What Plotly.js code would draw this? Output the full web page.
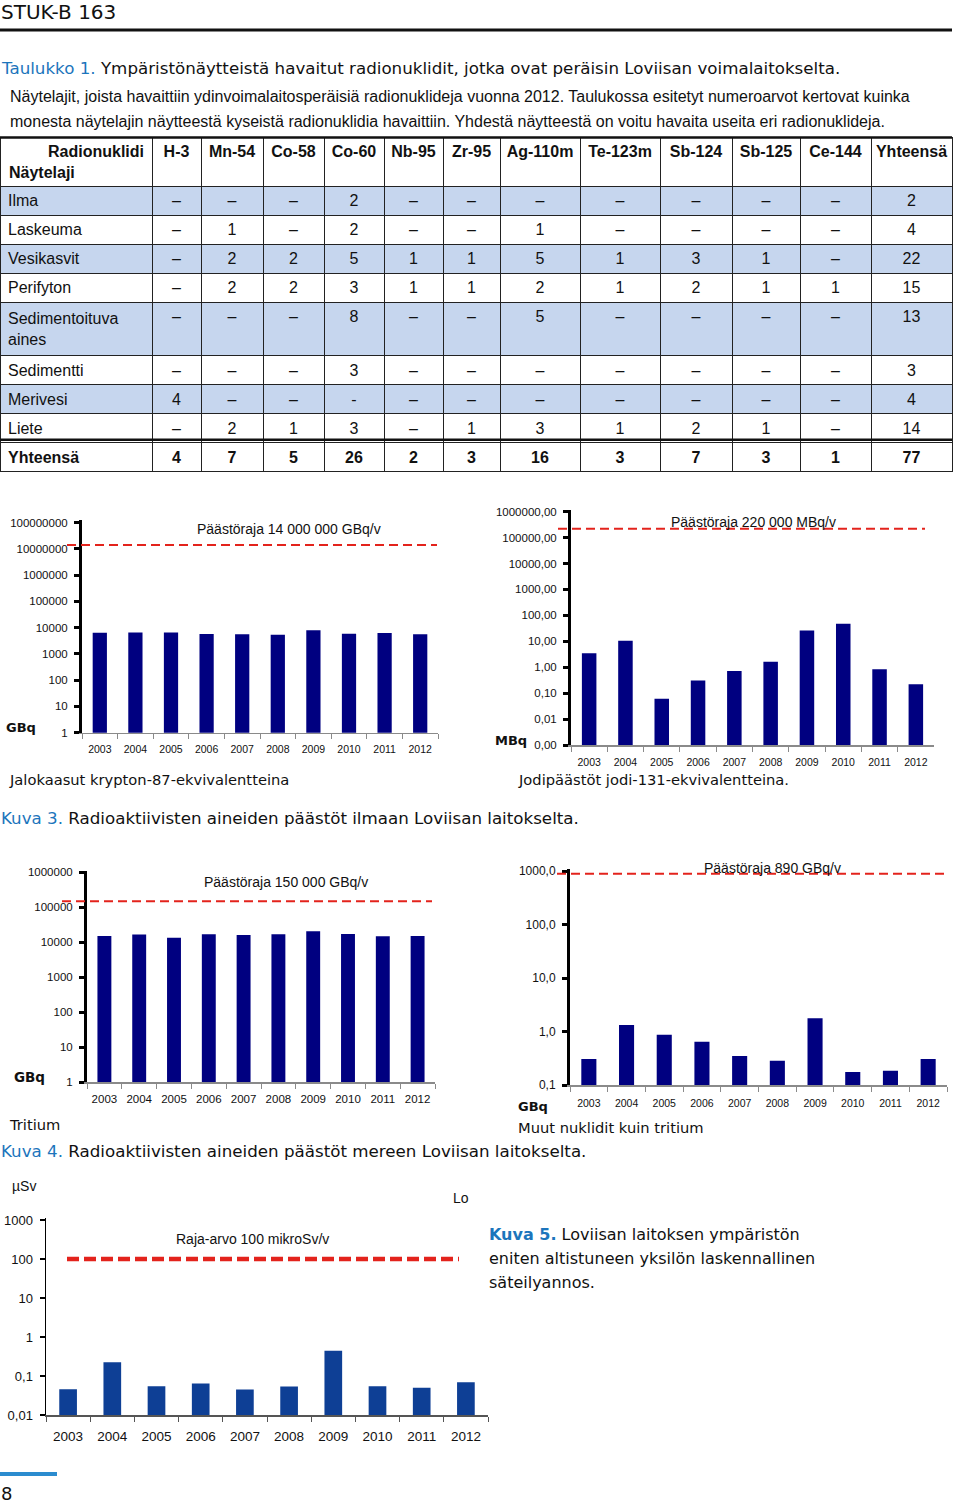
<!DOCTYPE html>
<html><head><meta charset="utf-8">
<script src="https://cdn.plot.ly/plotly-3.0.1.min.js"></script>
<style>html,body{margin:0;padding:0;background:#fff}#chart{width:960px;height:1504px}</style>
</head><body><div id="chart"></div>
<script>
// ---------------- data ----------------
const nuclides = ['H-3','Mn-54','Co-58','Co-60','Nb-95','Zr-95','Ag-110m','Te-123m','Sb-124','Sb-125','Ce-144','Yhteensä'];
const sampleTypes = ['Ilma','Laskeuma','Vesikasvit','Perifyton','Sedimentoituva<br>aines','Sedimentti','Merivesi','Liete','Yhteensä'];
const rowIlma       = ['–','–','–','2','–','–','–','–','–','–','–','2'];
const rowLaskeuma   = ['–','1','–','2','–','–','1','–','–','–','–','4'];
const rowVesikasvit = ['–','2','2','5','1','1','5','1','3','1','–','22'];
const rowPerifyton  = ['–','2','2','3','1','1','2','1','2','1','1','15'];
const rowSedAines   = ['–','–','–','8','–','–','5','–','–','–','–','13'];
const rowSedimentti = ['–','–','–','3','–','–','–','–','–','–','–','3'];
const rowMerivesi   = ['4','–','–','-','–','–','–','–','–','–','–','4'];
const rowLiete      = ['–','2','1','3','–','1','3','1','2','1','–','14'];
const rowTotal      = ['4','7','5','26','2','3','16','3','7','3','1','77'];

const years = ['2003','2004','2005','2006','2007','2008','2009','2010','2011','2012'];
const nobleGasKr87  = [6460,6600,6600,5740,5570,5410,7910,5910,6270,5570];   // GBq
const iodineI131    = [3.43,10.6,0.061,0.31,0.71,1.64,26.4,47.8,0.83,0.22];   // MBq
const tritium       = [15200,16600,13600,16900,16200,16900,20600,17300,14800,15200]; // GBq
const otherNuclides = [0.306,1.32,0.87,0.64,0.35,0.285,1.76,0.175,0.185,0.306]; // GBq
const doseMicroSv   = [0.046,0.224,0.055,0.064,0.045,0.054,0.446,0.055,0.050,0.069]; // µSv

const limitNobleGas = 14000000;
const limitIodine = 220000;
const limitTritium = 150000;
const limitOther = 890;
const limitDose = 100;

const ticksA = [1,10,100,1000,10000,100000,1000000,10000000,100000000];
const tickTextA = ['1','10','100','1000','10000','100000','1000000','10000000','100000000'];
const ticksB = [0.001,0.01,0.1,1,10,100,1000,10000,100000,1000000];
const tickTextB = ['0,00','0,01','0,10','1,00','10,00','100,00','1000,00','10000,00','100000,00','1000000,00'];
const ticksC = [1,10,100,1000,10000,100000,1000000];
const tickTextC = ['1','10','100','1000','10000','100000','1000000'];
const ticksD = [0.1,1,10,100,1000];
const tickTextD = ['0,1','1,0','10,0','100,0','1000,0'];
const ticksE = [0.01,0.1,1,10,100,1000];
const tickTextE = ['0,01','0,1','1','10','100','1000'];

// ---------------- styling ----------------
const W = 960, H = 1504;
const NARROW = '"Liberation Sans", Arial, sans-serif';
const SANS = '"DejaVu Sans", Verdana, sans-serif';
const BLUE_TXT = '#1c75bc';
const ROW_BLUE = '#c6d6ee';
const NAVY = '#000080';
const BAR_E = '#0e3f95';
const RED = '#e3231c';

const px = v => v / W;
const py = v => 1 - v / H;

const rows = [rowIlma,rowLaskeuma,rowVesikasvit,rowPerifyton,rowSedAines,rowSedimentti,rowMerivesi,rowLiete,rowTotal];
const cellCols = [sampleTypes].concat(nuclides.map((_, j) => rows.map(r => r[j])));
const rowFill = rows.map((r, i) => (i % 2 === 0 && i < rows.length - 1) ? ROW_BLUE : '#ffffff');
const rowWeight = rows.map((r, i) => i === rows.length - 1 ? 'bold' : 'normal');

const table = {
  type: 'table',
  domain: {x: [0, px(952)], y: [py(500), py(137)]},
  columnwidth: [152,49,62,61,60,59,57,80,80,72,68,71,81],
  header: {
    values: ['Radionuklidi'].concat(nuclides),
    align: ['right'].concat(nuclides.map(() => 'center')),
    height: 49,
    fill: {color: '#ffffff'},
    line: {color: '#222', width: 1},
    font: {family: NARROW, size: 16, color: '#111', weight: 'bold'}
  },
  cells: {
    values: cellCols,
    align: ['left'].concat(nuclides.map(() => 'center')),
    height: 29,
    fill: {color: cellCols.map(() => rowFill)},
    line: {color: '#222', width: 1},
    font: {family: NARROW, size: 16, color: '#111', weight: cellCols.map(() => rowWeight)}
  }
};

function barTrace(vals, xa, ya, color) {
  return {type: 'bar', x: years, y: vals, xaxis: xa, yaxis: ya,
          marker: {color: color, line: {width: 0}}, hoverinfo: 'skip', showlegend: false};
}

const traces = [
  table,
  barTrace(nobleGasKr87, 'x', 'y', NAVY),
  barTrace(iodineI131, 'x2', 'y2', NAVY),
  barTrace(tritium, 'x3', 'y3', NAVY),
  barTrace(otherNuclides, 'x4', 'y4', NAVY),
  barTrace(doseMicroSv, 'x5', 'y5', BAR_E)
];

function xAx(x0, x1, anchor, fs, standoff, lc) {
  return {domain: [px(x0), px(x1)], anchor: anchor, type: 'category',
          showline: true, linecolor: lc || '#8a8a8a', linewidth: 1.5,
          ticks: 'outside', tickson: 'boundaries', ticklen: 5, tickcolor: lc || '#8a8a8a', tickwidth: 1,
          tickangle: 0, ticklabelstandoff: standoff,
          showgrid: false, zeroline: false, fixedrange: true,
          tickfont: {family: NARROW, size: fs, color: '#111'}};
}
function yAx(top, bottom, range, tv, tt, anchor, fs, lw) {
  return {domain: [py(bottom), py(top)], anchor: anchor, type: 'log', range: range,
          tickmode: 'array', tickvals: tv, ticktext: tt,
          showline: true, linecolor: '#000', linewidth: lw,
          ticks: 'outside', ticklen: 5, tickwidth: lw, tickcolor: '#000',
          ticklabelstandoff: 4,
          showgrid: false, zeroline: false, fixedrange: true,
          tickfont: {family: NARROW, size: fs, color: '#111'}};
}

function T(text, x, y, size, family, opt) {
  opt = opt || {};
  return {text: text, x: px(x), y: py(y), xref: 'paper', yref: 'paper',
          xanchor: opt.xanchor || 'left', yanchor: 'middle', showarrow: false,
          borderpad: 0, font: {size: size, family: family, color: opt.color || '#111'}};
}
function limitLine(ya, val, x0, x1, width, dash) {
  return {type: 'line', xref: 'paper', yref: ya, x0: px(x0), x1: px(x1), y0: val, y1: val,
          line: {color: RED, width: width, dash: dash}};
}

const layout = {
  width: W, height: H,
  margin: {l: 0, r: 0, t: 0, b: 0, pad: 0},
  paper_bgcolor: '#fff', plot_bgcolor: 'rgba(0,0,0,0)',
  showlegend: false, bargap: 0.6,
  font: {family: NARROW, color: '#111'},
  xaxis:  xAx(82, 438, 'y', 10.5, 6),
  yaxis:  yAx(519.5, 732.7, [0, 8.12], ticksA, tickTextA, 'x', 11.5, 3),
  xaxis2: xAx(571, 934, 'y2', 10.5, 7),
  yaxis2: yAx(510.4, 745, [-3, 6.05], ticksB, tickTextB, 'x2', 11.5, 3),
  xaxis3: xAx(87, 435, 'y3', 11.5, 5),
  yaxis3: yAx(870.9, 1082.3, [0, 6.04], ticksC, tickTextC, 'x3', 11.5, 3),
  xaxis4: xAx(570, 947, 'y4', 10.5, 8),
  yaxis4: yAx(869.4, 1085, [-1, 3.03], ticksD, tickTextD, 'x4', 12, 3),
  xaxis5: xAx(46, 488, 'y5', 13.5, 8, '#555'),
  yaxis5: yAx(1217.7, 1415, [-2, 3.06], ticksE, tickTextE, 'x5', 13, 1.5),
  shapes: [
    {type: 'line', xref: 'paper', yref: 'paper', x0: 0, x1: px(952), y0: py(30), y1: py(30), line: {color: '#111', width: 3}},
    {type: 'line', xref: 'paper', yref: 'paper', x0: 0, x1: px(952), y0: py(137.5), y1: py(137.5), line: {color: '#111', width: 2.5}},
    limitLine('y', limitNobleGas, 67, 437, 2, '9px,5px'),
    limitLine('y2', limitIodine, 558, 925, 2, '9px,5px'),
    limitLine('y3', limitTritium, 62, 432, 2, '9px,5px'),
    limitLine('y4', limitOther, 557, 945, 2, '9px,5px'),
    limitLine('y5', limitDose, 67, 459, 4.5, '12px,5px'),
    {type: 'line', xref: 'paper', yref: 'paper', x0: 0, x1: px(57), y0: py(1474), y1: py(1474), line: {color: '#2b8ccf', width: 4}}
  ],
  annotations: [
    T('STUK-B 163', 0, 12, 20, SANS),
    T('<span style="color:' + BLUE_TXT + '">Taulukko 1.</span> Ympäristönäytteistä havaitut radionuklidit, jotka ovat peräisin Loviisan voimalaitokselta.', 0, 68, 16.7, SANS),
    T('Näytelajit, joista havaittiin ydinvoimalaitosperäisiä radionuklideja vuonna 2012. Taulukossa esitetyt numeroarvot kertovat kuinka', 9, 97, 16, NARROW),
    T('monesta näytelajin näytteestä kyseistä radionuklidia havaittiin. Yhdestä näytteestä on voitu havaita useita eri radionuklideja.', 9, 122, 16, NARROW),
    T('<b>Näytelaji</b>', 8, 172, 16, NARROW),

    T('Päästöraja 14 000 000 GBq/v', 289, 529, 14, NARROW, {xanchor: 'center'}),
    T('<b>GBq</b>', 5, 727, 13, SANS),
    T('Jalokaasut krypton-87-ekvivalentteina', 8, 779, 14.7, SANS),

    T('Päästöraja 220 000 MBq/v', 753, 522, 14, NARROW, {xanchor: 'center'}),
    T('<b>MBq</b>', 494, 740, 13, SANS),
    T('Jodipäästöt jodi-131-ekvivalentteina.', 517, 779, 14.7, SANS),

    T('<span style="color:' + BLUE_TXT + '">Kuva 3.</span> Radioaktiivisten aineiden päästöt ilmaan Loviisan laitokselta.', 0, 818, 16.7, SANS),

    T('Päästöraja 150 000 GBq/v', 286, 882, 14, NARROW, {xanchor: 'center'}),
    T('<b>GBq</b>', 13, 1077, 13.5, SANS),
    T('Tritium', 8, 1124, 14.7, SANS),

    T('Päästöraja 890 GBq/v', 772, 868, 14, NARROW, {xanchor: 'center'}),
    T('<b>GBq</b>', 517, 1106, 13, SANS),
    T('Muut nuklidit kuin tritium', 517, 1127, 14.7, SANS),

    T('<span style="color:' + BLUE_TXT + '">Kuva 4.</span> Radioaktiivisten aineiden päästöt mereen Loviisan laitokselta.', 0, 1151, 16.7, SANS),

    T('µSv', 11, 1186, 14, NARROW),
    T('Lo', 452, 1198, 14, NARROW),
    T('Raja-arvo 100 mikroSv/v', 252, 1239, 14, NARROW, {xanchor: 'center'}),

    T('<b><span style="color:' + BLUE_TXT + '">Kuva 5.</span></b> Loviisan laitoksen ympäristön', 488, 1234, 16, SANS),
    T('eniten altistuneen yksilön laskennallinen', 488, 1258, 16, SANS),
    T('säteilyannos.', 488, 1282, 16, SANS),

    T('8', 0, 1493, 18, SANS)
  ]
};

Plotly.newPlot('chart', traces, layout, {staticPlot: true, displayModeBar: false}).then(function (gd) {
  // thick rule above the totals row, placed at the row boundary the table actually drew
  var texts = Array.prototype.slice.call(gd.querySelectorAll('.table .cell-text'));
  var tot = texts.filter(function (t) { return t.textContent === 'Yhteensä'; });
  if (tot.length) {
    var gb = gd.getBoundingClientRect();
    var ys = tot.map(function (t) { return t.getBoundingClientRect().top - gb.top; });
    var top = Math.max.apply(null, ys) - 9;
    Plotly.relayout(gd, {'shapes[8]': {type: 'line', xref: 'paper', yref: 'paper', x0: 0, x1: px(952),
      y0: py(top), y1: py(top), line: {color: '#111', width: 2.5}}});
  }
});
</script>
</body></html>
